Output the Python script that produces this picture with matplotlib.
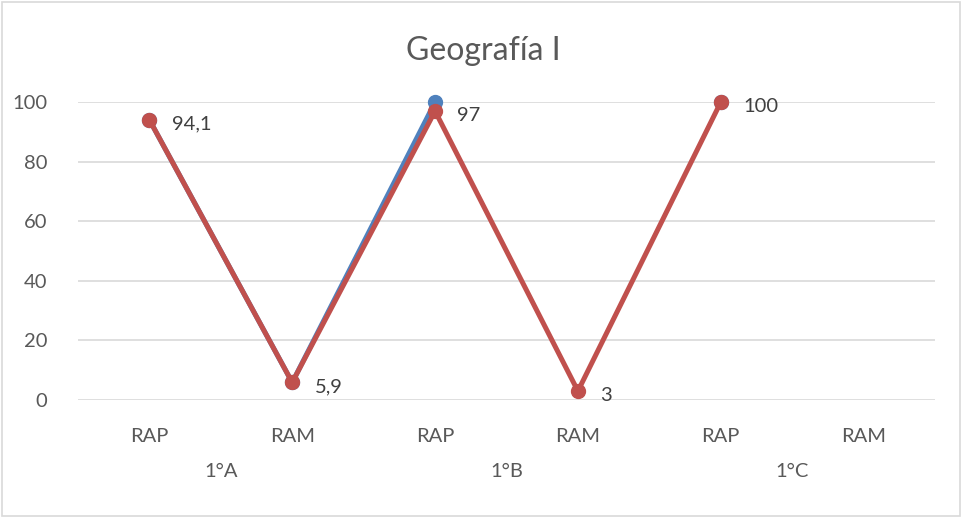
import numpy as np
import matplotlib.pyplot as plt
from matplotlib.patches import Rectangle
import matplotlib.transforms as mtransforms
plt.rcParams['font.family'] = ['Lato', 'DejaVu Sans']

categories = ["RAP", "RAM", "RAP", "RAM", "RAP", "RAM"]
groups = ["1°A", "1°B", "1°C"]
serie_azul = [94.1, 5.9, 100, np.nan, 100, np.nan]
serie_roja = [94.1, 5.9, 97, 3, 100, np.nan]
etiquetas = ["94,1", "5,9", "97", "3", "100", ""]

gris = '#595959'
fig = plt.figure(figsize=(9.62, 5.18), dpi=100)
ax = fig.add_axes([0.081, 0.2278, 0.891, 0.575])
x = np.arange(len(categories))

ax.plot(x, serie_azul, color='#4F81BD', lw=3.6, marker='o', ms=10, clip_on=False, zorder=3)
ax.plot(x, serie_roja, color='#C0504D', lw=3.6, marker='o', ms=10, clip_on=False, zorder=4)
for xi, yi, t in zip(x, serie_roja, etiquetas):
    if t:
        ax.annotate(t, (xi, yi), xytext=(16, -3), textcoords='offset points',
                    ha='left', va='center', fontsize=14.5, color='#404040')

ax.set_xlim(-0.5, 5.5)
ax.set_ylim(0, 100)
ax.set_yticks(range(0, 101, 20))
ax.grid(axis='y', color='#D9D9D9', lw=1.2)
ax.set_axisbelow(True)
for s in ax.spines.values():
    s.set_visible(False)
ax.tick_params(axis='y', length=0, pad=22, labelsize=14.5, labelcolor=gris)
ax.set_xticks(x)
ax.set_xticklabels(categories)
ax.tick_params(axis='x', length=0, pad=20, labelsize=14.5, labelcolor=gris)

trans = mtransforms.blended_transform_factory(ax.transData, ax.transAxes)
for i, g in enumerate(groups):
    ax.text(2 * i + 0.5, -0.24, g, transform=trans, ha='center', va='center',
            fontsize=14.5, color=gris)

fig.text(0.502, 0.902, "Geografía I", ha='center', va='center', fontsize=23, color=gris)
fig.patches.append(Rectangle((0.002, 0.003), 0.996, 0.994, transform=fig.transFigure,
                             fill=False, edgecolor='#D9D9D9', lw=1.2))

fig.savefig("out.png", dpi=100)
